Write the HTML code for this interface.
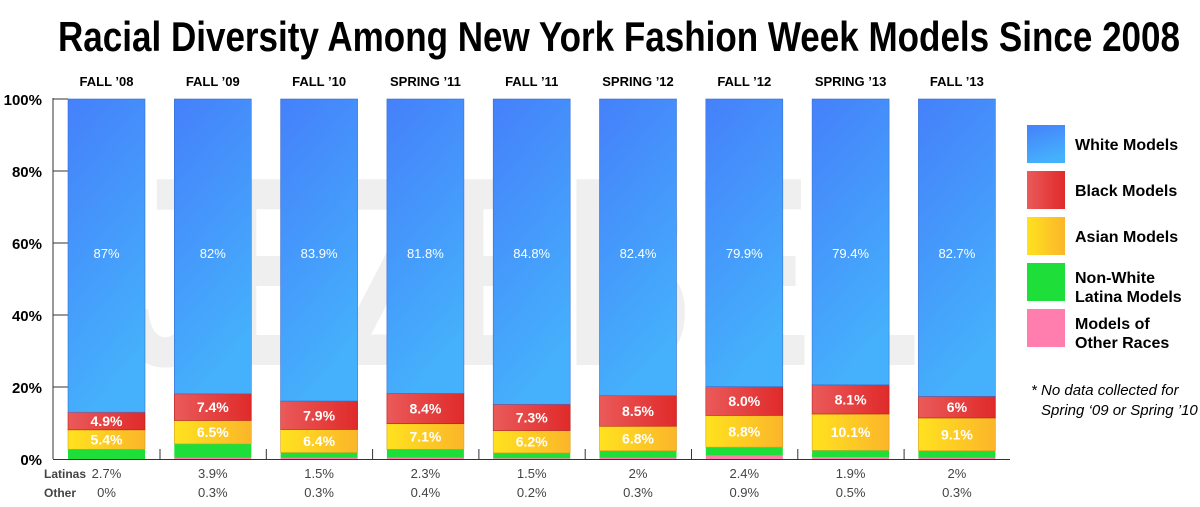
<!DOCTYPE html>
<html><head><meta charset="utf-8"><style>
html,body{margin:0;padding:0;background:#fff;}
svg{display:block;font-family:"Liberation Sans",sans-serif;}
</style></head><body>
<svg width="1200" height="507" viewBox="0 0 1200 507" xmlns="http://www.w3.org/2000/svg">
<defs>
<linearGradient id="gw" x1="0" y1="0" x2="0.3" y2="1"><stop offset="0" stop-color="#4580fb"/><stop offset="1" stop-color="#45b0fb"/></linearGradient>
<linearGradient id="gb" x1="0" y1="0" x2="1" y2="0"><stop offset="0" stop-color="#ea5a5a"/><stop offset="1" stop-color="#e02a2a"/></linearGradient>
<linearGradient id="ga" x1="0" y1="0" x2="1" y2="0"><stop offset="0" stop-color="#ffe21f"/><stop offset="1" stop-color="#fbb52a"/></linearGradient>
</defs>
<text x="619" y="51" text-anchor="middle" font-size="42" font-weight="bold" textLength="1122" lengthAdjust="spacingAndGlyphs" style="font-family:'Liberation Sans Narrow','Liberation Sans',sans-serif">Racial Diversity Among New York Fashion Week Models Since 2008</text>
<text x="520" y="365" text-anchor="middle" font-size="270" font-weight="bold" fill="#efefef" textLength="800" lengthAdjust="spacingAndGlyphs">JEZEBEL</text>
<g font-size="15" font-weight="bold" text-anchor="end">
<text x="42" y="105">100%</text><text x="42" y="177">80%</text><text x="42" y="249">60%</text><text x="42" y="321">40%</text><text x="42" y="393">20%</text><text x="42" y="465">0%</text>
</g>
<g stroke="#333" stroke-width="1">
<line x1="53" y1="98" x2="53" y2="459"/><line x1="53" y1="459.5" x2="1010" y2="459.5"/>
<line x1="53" y1="99" x2="68" y2="99"/><line x1="53" y1="171" x2="68" y2="171"/><line x1="53" y1="243" x2="68" y2="243"/><line x1="53" y1="315" x2="68" y2="315"/><line x1="53" y1="387" x2="68" y2="387"/>
<line x1="160" y1="449" x2="160" y2="459"/><line x1="266.3" y1="449" x2="266.3" y2="459"/><line x1="372.6" y1="449" x2="372.6" y2="459"/><line x1="478.9" y1="449" x2="478.9" y2="459"/><line x1="585.2" y1="449" x2="585.2" y2="459"/><line x1="691.5" y1="449" x2="691.5" y2="459"/><line x1="797.8" y1="449" x2="797.8" y2="459"/><line x1="904.1" y1="449" x2="904.1" y2="459"/>
</g>

<!-- bars: pink, green, asian, black, white -->
<g>
<rect x="68" y="449.28" width="77" height="9.72" fill="#1ede3a"/>
<rect x="68" y="429.84" width="77" height="19.44" fill="url(#ga)" stroke="#d8a020" stroke-width="0.6"/>
<rect x="68" y="412.2" width="77" height="17.64" fill="url(#gb)" stroke="#b52020" stroke-width="0.6"/>
<rect x="68" y="99" width="77" height="313.2" fill="url(#gw)" stroke="#3a70d0" stroke-width="0.6"/>

<rect x="174.3" y="457.92" width="77" height="1.08" fill="#ff7eae"/>
<rect x="174.3" y="443.88" width="77" height="14.04" fill="#1ede3a"/>
<rect x="174.3" y="420.48" width="77" height="23.4" fill="url(#ga)" stroke="#d8a020" stroke-width="0.6"/>
<rect x="174.3" y="393.84" width="77" height="26.64" fill="url(#gb)" stroke="#b52020" stroke-width="0.6"/>
<rect x="174.3" y="99" width="77" height="294.84" fill="url(#gw)" stroke="#3a70d0" stroke-width="0.6"/>

<rect x="280.6" y="457.92" width="77" height="1.08" fill="#ff7eae"/>
<rect x="280.6" y="452.52" width="77" height="5.4" fill="#1ede3a"/>
<rect x="280.6" y="429.48" width="77" height="23.04" fill="url(#ga)" stroke="#d8a020" stroke-width="0.6"/>
<rect x="280.6" y="401.04" width="77" height="28.44" fill="url(#gb)" stroke="#b52020" stroke-width="0.6"/>
<rect x="280.6" y="99" width="77" height="302.04" fill="url(#gw)" stroke="#3a70d0" stroke-width="0.6"/>

<rect x="386.9" y="457.56" width="77" height="1.44" fill="#ff7eae"/>
<rect x="386.9" y="449.28" width="77" height="8.28" fill="#1ede3a"/>
<rect x="386.9" y="423.72" width="77" height="25.56" fill="url(#ga)" stroke="#d8a020" stroke-width="0.6"/>
<rect x="386.9" y="393.48" width="77" height="30.24" fill="url(#gb)" stroke="#b52020" stroke-width="0.6"/>
<rect x="386.9" y="99" width="77" height="294.48" fill="url(#gw)" stroke="#3a70d0" stroke-width="0.6"/>

<rect x="493.2" y="458.28" width="77" height="0.72" fill="#ff7eae"/>
<rect x="493.2" y="452.88" width="77" height="5.4" fill="#1ede3a"/>
<rect x="493.2" y="430.56" width="77" height="22.32" fill="url(#ga)" stroke="#d8a020" stroke-width="0.6"/>
<rect x="493.2" y="404.28" width="77" height="26.28" fill="url(#gb)" stroke="#b52020" stroke-width="0.6"/>
<rect x="493.2" y="99" width="77" height="305.28" fill="url(#gw)" stroke="#3a70d0" stroke-width="0.6"/>

<rect x="599.5" y="457.92" width="77" height="1.08" fill="#ff7eae"/>
<rect x="599.5" y="450.72" width="77" height="7.2" fill="#1ede3a"/>
<rect x="599.5" y="426.24" width="77" height="24.48" fill="url(#ga)" stroke="#d8a020" stroke-width="0.6"/>
<rect x="599.5" y="395.64" width="77" height="30.6" fill="url(#gb)" stroke="#b52020" stroke-width="0.6"/>
<rect x="599.5" y="99" width="77" height="296.64" fill="url(#gw)" stroke="#3a70d0" stroke-width="0.6"/>

<rect x="705.8" y="455.76" width="77" height="3.24" fill="#ff7eae"/>
<rect x="705.8" y="447.12" width="77" height="8.64" fill="#1ede3a"/>
<rect x="705.8" y="415.44" width="77" height="31.68" fill="url(#ga)" stroke="#d8a020" stroke-width="0.6"/>
<rect x="705.8" y="386.64" width="77" height="28.8" fill="url(#gb)" stroke="#b52020" stroke-width="0.6"/>
<rect x="705.8" y="99" width="77" height="287.64" fill="url(#gw)" stroke="#3a70d0" stroke-width="0.6"/>

<rect x="812.1" y="457.2" width="77" height="1.8" fill="#ff7eae"/>
<rect x="812.1" y="450.36" width="77" height="6.84" fill="#1ede3a"/>
<rect x="812.1" y="414" width="77" height="36.36" fill="url(#ga)" stroke="#d8a020" stroke-width="0.6"/>
<rect x="812.1" y="384.84" width="77" height="29.16" fill="url(#gb)" stroke="#b52020" stroke-width="0.6"/>
<rect x="812.1" y="99" width="77" height="285.84" fill="url(#gw)" stroke="#3a70d0" stroke-width="0.6"/>

<rect x="918.4" y="457.92" width="77" height="1.08" fill="#ff7eae"/>
<rect x="918.4" y="450.72" width="77" height="7.2" fill="#1ede3a"/>
<rect x="918.4" y="417.96" width="77" height="32.76" fill="url(#ga)" stroke="#d8a020" stroke-width="0.6"/>
<rect x="918.4" y="396.36" width="77" height="21.6" fill="url(#gb)" stroke="#b52020" stroke-width="0.6"/>
<rect x="918.4" y="99" width="77" height="297.36" fill="url(#gw)" stroke="#3a70d0" stroke-width="0.6"/>
</g>

<g font-size="13" font-weight="bold" text-anchor="middle">
<text x="106.5" y="86">FALL ’08</text><text x="212.8" y="86">FALL ’09</text><text x="319.1" y="86">FALL ’10</text><text x="425.4" y="86">SPRING ’11</text><text x="531.7" y="86">FALL ’11</text><text x="638" y="86">SPRING ’12</text><text x="744.3" y="86">FALL ’12</text><text x="850.6" y="86">SPRING ’13</text><text x="956.9" y="86">FALL ’13</text>
</g>
<g font-size="13" fill="#fff" text-anchor="middle">
<text x="106.5" y="258">87%</text><text x="212.8" y="258">82%</text><text x="319.1" y="258">83.9%</text><text x="425.4" y="258">81.8%</text><text x="531.7" y="258">84.8%</text><text x="638" y="258">82.4%</text><text x="744.3" y="258">79.9%</text><text x="850.6" y="258">79.4%</text><text x="956.9" y="258">82.7%</text>
</g>
<g font-size="14" font-weight="bold" fill="#fff" text-anchor="middle">
<text x="106.5" y="426">4.9%</text><text x="106.5" y="444.6">5.4%</text>
<text x="212.8" y="412.2">7.4%</text><text x="212.8" y="437.2">6.5%</text>
<text x="319.1" y="420.3">7.9%</text><text x="319.1" y="446">6.4%</text>
<text x="425.4" y="413.6">8.4%</text><text x="425.4" y="441.5">7.1%</text>
<text x="531.7" y="422.4">7.3%</text><text x="531.7" y="446.7">6.2%</text>
<text x="638" y="415.9">8.5%</text><text x="638" y="443.5">6.8%</text>
<text x="744.3" y="406">8.0%</text><text x="744.3" y="436.3">8.8%</text>
<text x="850.6" y="404.4">8.1%</text><text x="850.6" y="437.2">10.1%</text>
<text x="956.9" y="412.2">6%</text><text x="956.9" y="439.3">9.1%</text>
</g>
<g font-size="13" fill="#444" text-anchor="middle">
<text x="106.5" y="478">2.7%</text><text x="212.8" y="478">3.9%</text><text x="319.1" y="478">1.5%</text><text x="425.4" y="478">2.3%</text><text x="531.7" y="478">1.5%</text><text x="638" y="478">2%</text><text x="744.3" y="478">2.4%</text><text x="850.6" y="478">1.9%</text><text x="956.9" y="478">2%</text>
<text x="106.5" y="497">0%</text><text x="212.8" y="497">0.3%</text><text x="319.1" y="497">0.3%</text><text x="425.4" y="497">0.4%</text><text x="531.7" y="497">0.2%</text><text x="638" y="497">0.3%</text><text x="744.3" y="497">0.9%</text><text x="850.6" y="497">0.5%</text><text x="956.9" y="497">0.3%</text>
</g>
<g font-size="12" fill="#444" font-weight="bold"><text x="44" y="478">Latinas</text><text x="44" y="497">Other</text></g>
<g transform="translate(1027,125)">
<rect width="38" height="38" fill="url(#gw)"/><rect y="46" width="38" height="38" fill="url(#gb)"/><rect y="92" width="38" height="38" fill="url(#ga)"/><rect y="138" width="38" height="38" fill="#1ede3a"/><rect y="184" width="38" height="38" fill="#ff7eae"/>
<g font-size="16" font-weight="bold" style="font-family:'Liberation Sans Narrow','Liberation Sans',sans-serif">
<text x="48" y="25">White Models</text><text x="48" y="71">Black Models</text><text x="48" y="117">Asian Models</text>
<text x="48" y="158">Non-White</text><text x="48" y="177">Latina Models</text>
<text x="48" y="204">Models of</text><text x="48" y="223">Other Races</text>
<text x="4" y="270" font-style="italic" font-weight="normal" font-size="15">* No data collected for</text>
<text x="14" y="290" font-style="italic" font-weight="normal" font-size="15">Spring ‘09 or Spring ’10</text>
</g></g>
</svg>
</body></html>
